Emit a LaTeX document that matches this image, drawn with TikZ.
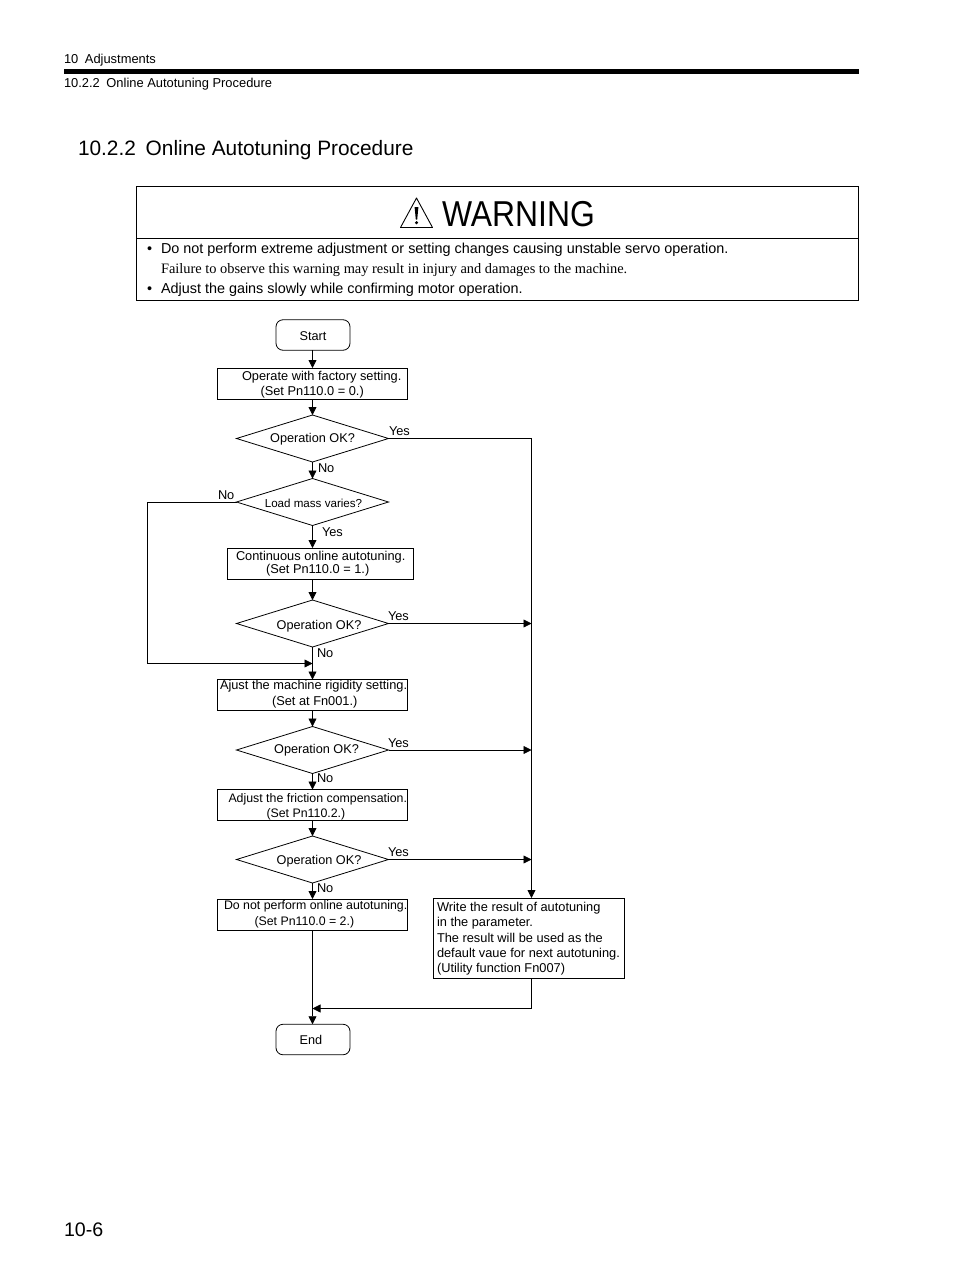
\documentclass[tikz,border=0pt]{standalone}
\usepackage{graphicx}
\usepackage{fontspec}
\setmainfont{Liberation Sans}
\newfontfamily\serifface{Liberation Serif}
\usetikzlibrary{arrows.meta,shapes.geometric}
\tikzset{
  x=1pt,y=-1pt,
  every node/.style={inner sep=0pt,outer sep=0pt},
  txt/.style={anchor=base west,font=\fontsize{12.8}{14}\selectfont},
  txts/.style={anchor=base west,font=\fontsize{12.35}{14}\selectfont},
  ctxt/.style={anchor=base,font=\fontsize{12.7}{14}\selectfont},
  body/.style={anchor=base west,font=\fontsize{14.4}{16}\selectfont},
  head/.style={anchor=base west,font=\fontsize{12.9}{15}\selectfont},
  procbox/.style={draw,line width=0.8pt,minimum width=190pt,minimum height=31pt},
  termbox/.style={draw,line width=0.8pt,rounded corners=7pt,minimum width=74pt,minimum height=30.5pt},
  decide/.style={draw,line width=0.8pt,diamond,aspect=3.2,minimum width=152pt,minimum height=47pt},
  flow/.style={line width=0.8pt,-{Triangle[length=8pt,width=8pt]}},
}
\begin{document}
\begin{tikzpicture}
\useasboundingbox (0,0) rectangle (954,1274);
\fill[white] (0,0) rectangle (954,1274);
% page header
\node[head] (h1) at (64,63) {10\hspace{3pt} Adjustments};
\coordinate (ruleL) at (64,71.5);
\coordinate (ruleR) at (859,71.5);
\draw[line width=5pt] (ruleL) -- (ruleR);
\node[head] (h2) at (64,87) {10.2.2\hspace{3pt} Online Autotuning Procedure};
\node[anchor=base west,font=\fontsize{20.85}{24}\selectfont] (title) at (78,155) {10.2.2\hspace{4pt} Online Autotuning Procedure};
% warning box
\node[draw,line width=1pt,minimum width=722pt,minimum height=114.5pt,anchor=north west] (warnbox) at (136.5,186) {};
\coordinate (sepL) at (136.5,238.5);
\coordinate (sepR) at (858.5,238.5);
\draw[line width=0.9pt] (sepL) -- (sepR);
\draw[line width=0.9pt,line join=round] (416.5,198) -- (432.5,227.5) -- (400.5,227.5) -- cycle;
\fill (414.6,207) -- (418.4,207) -- (417.2,219.5) -- (415.8,219.5) -- cycle;
\fill (416.5,222.7) circle (1.7);
\node[anchor=base west,font=\fontsize{36}{40}\selectfont] (warn) at (442,226) {\scalebox{0.885}[1]{WARNING}};
\node[body] (b1) at (147,253) {•};
\node[body] (w1) at (161,253) {Do not perform extreme adjustment or setting changes causing unstable servo operation.};
\node[anchor=base west,font=\fontsize{14.4}{16}\selectfont\serifface] (w2) at (161,273) {Failure to observe this warning may result in injury and damages to the machine.};
\node[body] (b2) at (147,293) {•};
\node[body] (w3) at (161,293) {Adjust the gains slowly while confirming motor operation.};
% flow nodes
\node[termbox] (start) at (313,335) {};
\node[ctxt] (tstart) at (313,340) {Start};
\node[procbox] (p1) at (312.5,383.5) {};
\node[txt] (t1a) at (242,380) {Operate with factory setting.};
\node[txt] (t1b) at (260.5,395) {(Set Pn110.0 = 0.)};
\node[decide] (d1) at (312.5,438.5) {};
\node[ctxt] (td1) at (312.5,442) {Operation OK?};
\node[decide] (d2) at (312.5,502) {};
\node[ctxt,font=\fontsize{11.6}{13}\selectfont] (td2) at (313.5,507) {Load mass varies?};
\node[procbox,minimum width=186pt] (p2) at (320,563.5) {};
\node[txt] (t2a) at (236,560) {Continuous online autotuning.};
\node[txt] (t2b) at (266,573) {(Set Pn110.0 = 1.)};
\node[decide] (d3) at (312.5,623.5) {};
\node[ctxt] (td3) at (319,629) {Operation OK?};
\node[procbox] (p3) at (312.5,695) {};
\node[txt] (t3a) at (220,689) {Ajust the machine rigidity setting.};
\node[txt] (t3b) at (272,705) {(Set at Fn001.)};
\node[decide] (d4) at (312.5,750) {};
\node[ctxt] (td4) at (316.5,753) {Operation OK?};
\node[procbox] (p4) at (312.5,805) {};
\node[txts] (t4a) at (228.5,802) {Adjust the friction compensation.};
\node[txts] (t4b) at (266.5,817) {(Set Pn110.2.)};
\node[decide] (d5) at (312.5,859.5) {};
\node[ctxt] (td5) at (319,864) {Operation OK?};
\node[procbox] (p5) at (312.5,914.5) {};
\node[txts] (t5a) at (224,909) {Do not perform online autotuning.};
\node[txts] (t5b) at (254.5,925) {(Set Pn110.0 = 2.)};
\node[procbox,minimum width=191pt,minimum height=80pt] (res) at (529,938) {};
\node[txt] (r1) at (437,911) {Write the result of autotuning};
\node[txt] (r2) at (437,926) {in the parameter.};
\node[txt] (r3) at (437,942) {The result will be used as the};
\node[txt] (r4) at (437,957) {default vaue for next autotuning.};
\node[txt] (r5) at (437,972) {(Utility function Fn007)};
\node[termbox] (endn) at (313,1039.5) {};
\node[ctxt] (tend) at (311,1044) {End};
% branch labels
\node[txt] (y1) at (389,435) {Yes};
\node[txt] (n1) at (318,472) {No};
\node[txt] (n2) at (218,499) {No};
\node[txt] (y2) at (322,536) {Yes};
\node[txt] (y3) at (388,620) {Yes};
\node[txt] (n3) at (317,657) {No};
\node[txt] (y4) at (388,747) {Yes};
\node[txt] (n4) at (317,782) {No};
\node[txt] (y5) at (388,856) {Yes};
\node[txt] (n5) at (317,892) {No};
% helper coordinates
\coordinate (resIn) at (531.5,898);
\coordinate (resOut) at (531.5,978);
\coordinate (riser) at (d1.east -| resIn);
\coordinate (j3) at (d3.east -| resIn);
\coordinate (j4) at (d4.east -| resIn);
\coordinate (j5) at (d5.east -| resIn);
\coordinate (leftT) at (147.5,502);
\coordinate (leftB) at (147.5,663.5);
\coordinate (mergeL) at (312.5,663.5);
\coordinate (resB) at (531.5,1008.5);
\coordinate (resJ) at (312.5,1008.5);
\coordinate (p2S) at (312.5,579);
\coordinate (p2N) at (312.5,548);
% connectors
\draw[flow] (start.south-|p1.north) -- (p1.north);
\draw[flow] (p1.south) -- (d1.north);
\draw[flow] (d1.south) -- (d2.north);
\draw[flow] (d2.south) -- (p2N);
\draw[flow] (p2S) -- (d3.north);
\draw[flow] (d3.south) -- (p3.north);
\draw[flow] (p3.south) -- (d4.north);
\draw[flow] (d4.south) -- (p4.north);
\draw[flow] (p4.south) -- (d5.north);
\draw[flow] (d5.south) -- (p5.north);
\draw[flow] (p5.south) -- (endn.north-|p5.south);
\draw[flow] (d1.east) -- (riser) -- (resIn);
\draw[flow] (d3.east) -- (j3);
\draw[flow] (d4.east) -- (j4);
\draw[flow] (d5.east) -- (j5);
\draw[flow] (d2.west) -- (leftT) -- (leftB) -- (mergeL);
\draw[flow] (resOut) -- (resB) -- (resJ);
% page number
\node[anchor=base west,font=\fontsize{19.6}{24}\selectfont] (pg) at (64,1236) {10-6};
\end{tikzpicture}
\end{document}
